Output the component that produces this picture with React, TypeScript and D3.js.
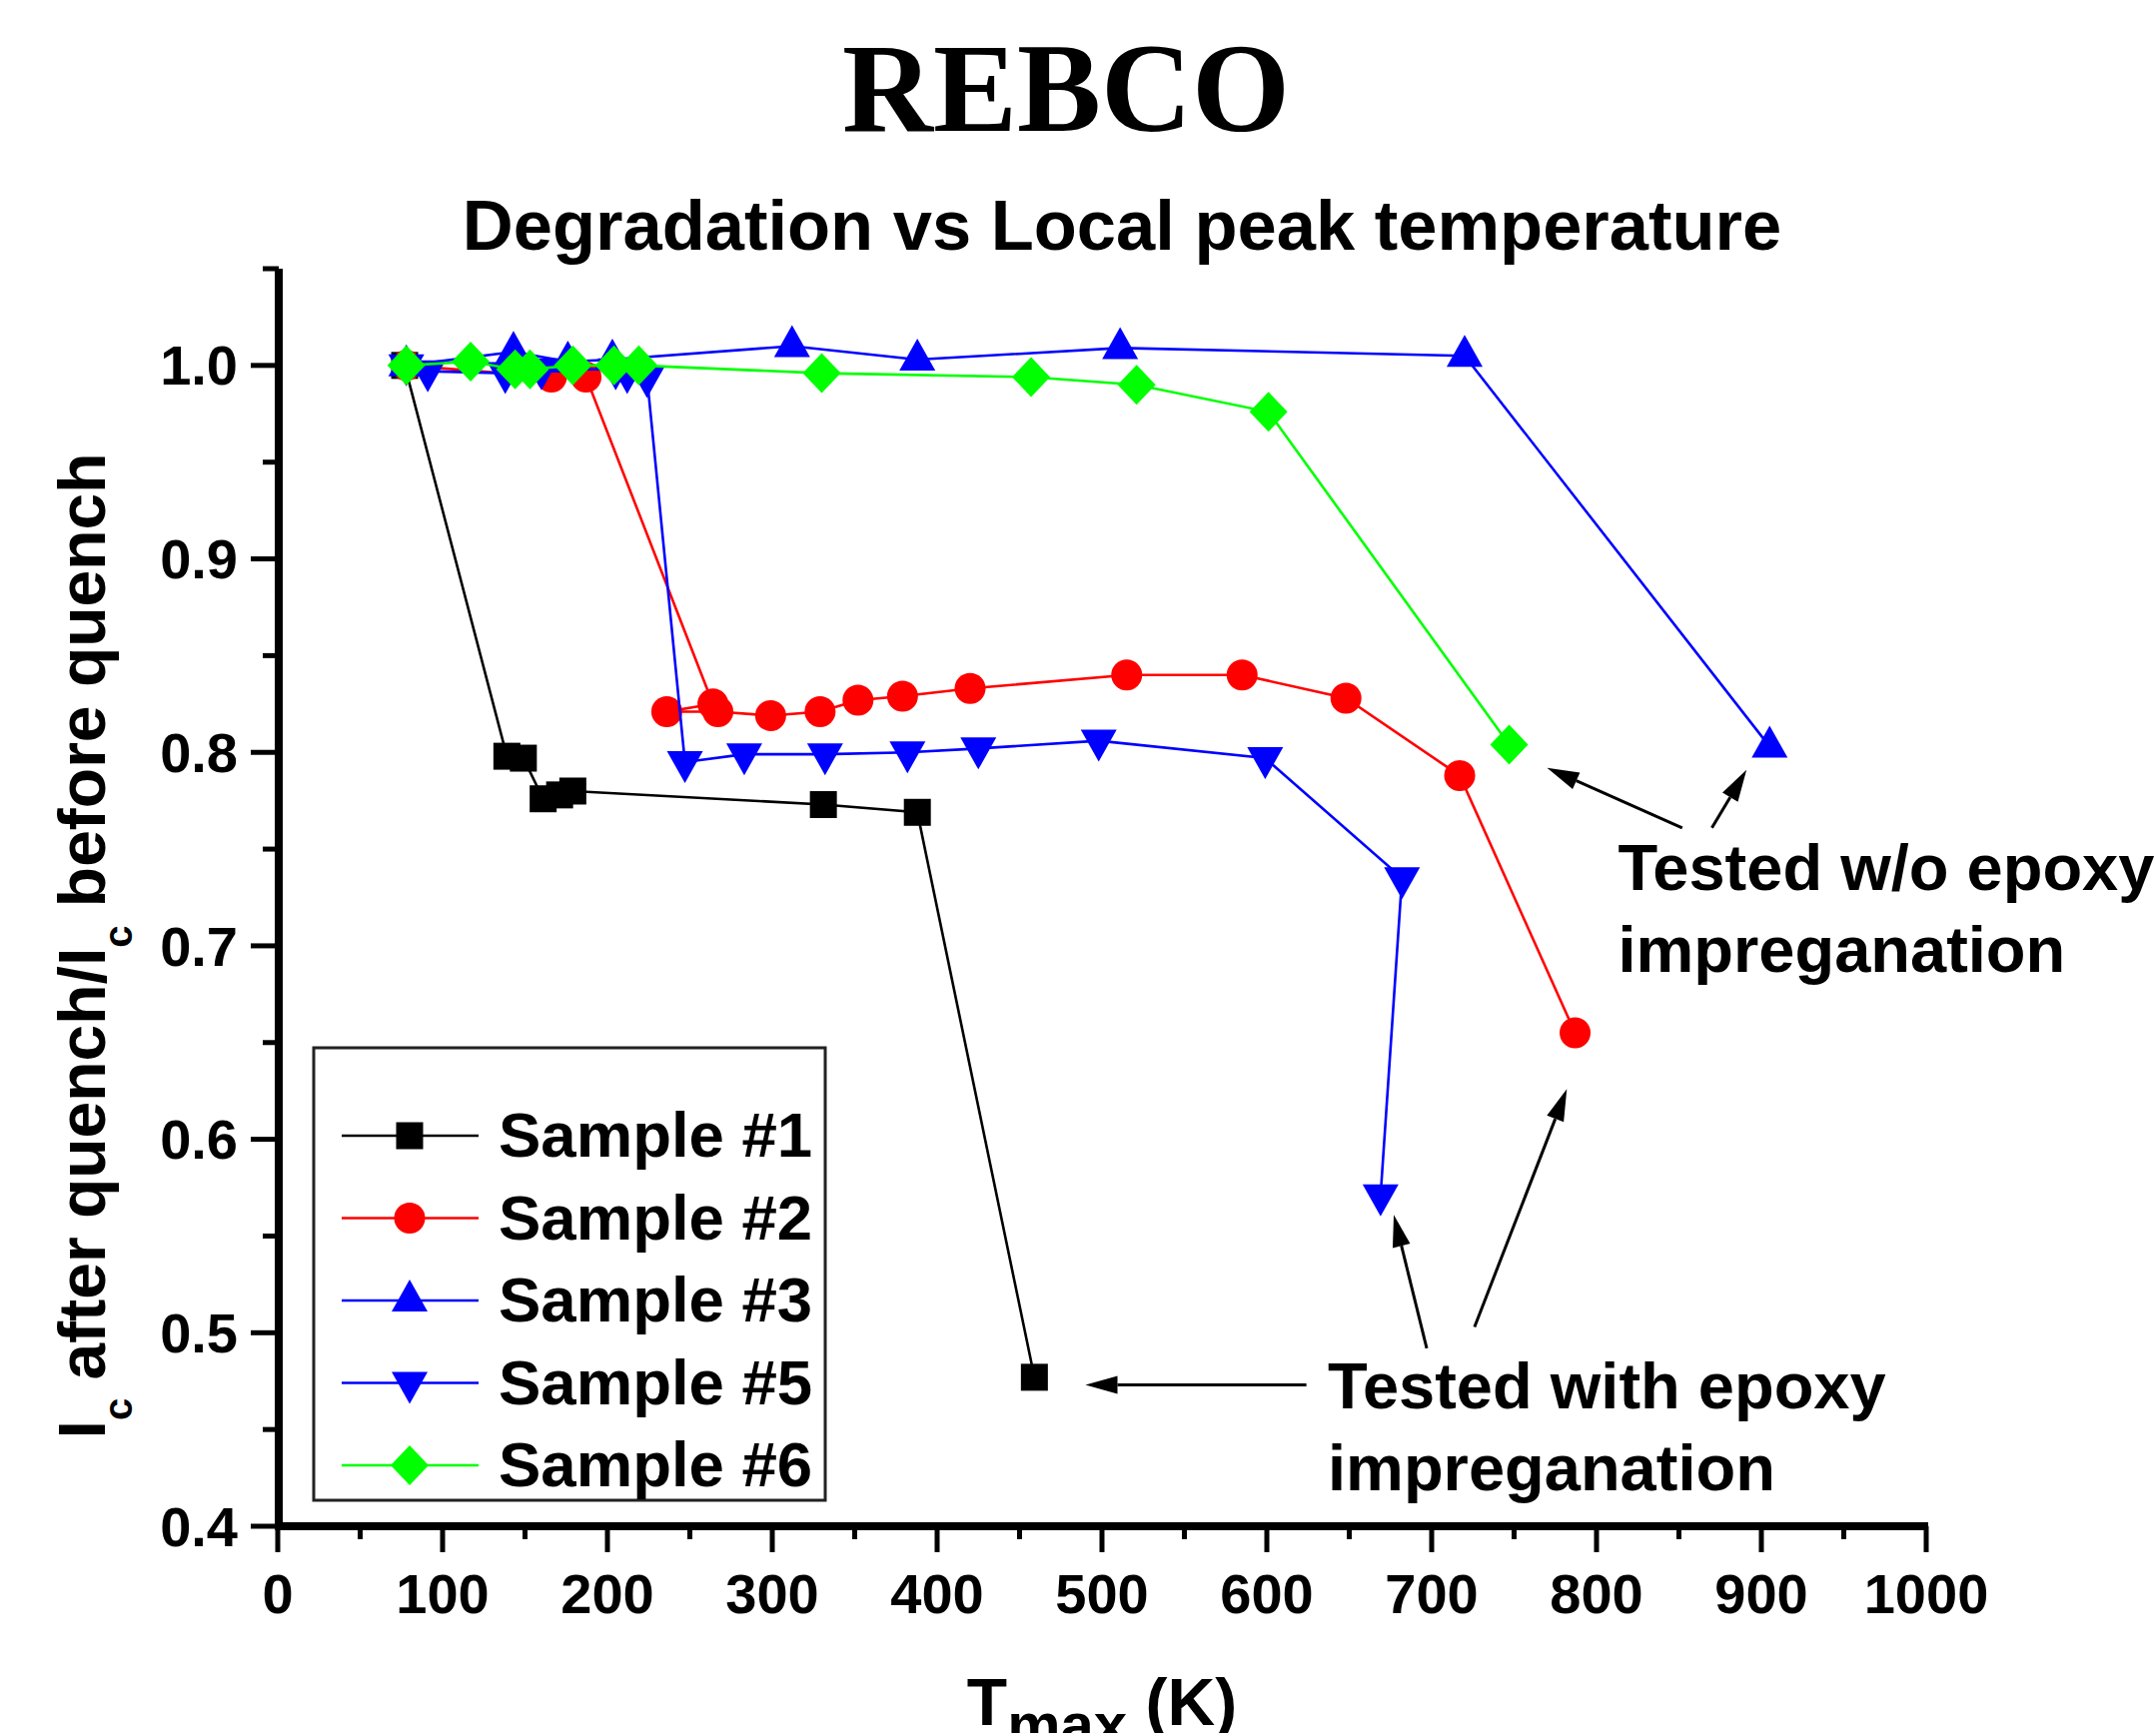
import React from 'react';
import * as d3 from 'd3';

// T_max (K), Ic ratio pairs
const sample1 = [
  [77, 1.0], [139, 0.798], [149, 0.797], [161, 0.776], [171, 0.778],
  [179, 0.78], [331, 0.773], [388, 0.769], [459, 0.477],
];
const sample2 = [
  [78, 1.0], [166, 0.994], [187, 0.994], [264, 0.825], [236, 0.821],
  [267, 0.821], [299, 0.819], [329, 0.821], [352, 0.827], [379, 0.829],
  [420, 0.833], [515, 0.84], [585, 0.84], [648, 0.828], [717, 0.788], [787, 0.655],
];
const sample3 = [
  [78, 1.0], [143, 1.007], [176, 1.002], [203, 1.003], [312, 1.01],
  [388, 1.003], [511, 1.009], [720, 1.005], [905, 0.803],
];
const sample5 = [
  [78, 1.0], [91, 0.997], [138, 0.996], [160, 0.998], [205, 0.998],
  [212, 0.996], [224, 0.994], [247, 0.795], [283, 0.799], [332, 0.799],
  [382, 0.8], [425, 0.802], [498, 0.806], [599, 0.797], [682, 0.735], [669, 0.571],
];
const sample6 = [
  [78, 1.0], [117, 1.002], [144, 0.998], [153, 0.998], [179, 1.0],
  [204, 1.0], [219, 1.0], [330, 0.996], [457, 0.994], [521, 0.99],
  [601, 0.976], [747, 0.804],
];

const xTicks = [0, 100, 200, 300, 400, 500, 600, 700, 800, 900, 1000];
const xMinor = [50, 150, 250, 350, 450, 550, 650, 750, 850, 950];
const yTicks = [0.4, 0.5, 0.6, 0.7, 0.8, 0.9, 1.0];
const yMinor = [0.45, 0.55, 0.65, 0.75, 0.85, 0.95, 1.05];

// annotation arrows in data units: [fromT, fromR, toT, toR]
const arrowsWith = [
  [624, 0.473, 490, 0.473],
  [697, 0.492, 677, 0.561],
  [726, 0.503, 782, 0.626],
];
const arrowsWithout = [
  [852, 0.761, 770, 0.792],
  [870, 0.761, 891, 0.791],
];

const W = 2158;
const H = 1735;
const FONT = '"Liberation Sans", Arial, sans-serif';

const x = d3.scaleLinear().domain([0, 1000]).range([278, 1928]);
const y = d3.scaleLinear().domain([0.4, 1.05]).range([1528, 269]);

const square = 'M-13.5,-13.5H13.5V13.5H-13.5Z';
const circle = d3.symbol().type(d3.symbolCircle).size(Math.PI * 15.5 * 15.5)();
const triUp = 'M0,-21L18,11L-18,11Z';
const triDown = 'M0,21L18,-11L-18,-11Z';
const diamond = 'M0,-20L19,0L0,20L-19,0Z';

const series = [
  { name: 'Sample #1', data: sample1, color: '#000000', marker: square },
  { name: 'Sample #2', data: sample2, color: '#ff0000', marker: circle },
  { name: 'Sample #3', data: sample3, color: '#0000ff', marker: triUp },
  { name: 'Sample #5', data: sample5, color: '#0000ff', marker: triDown },
  { name: 'Sample #6', data: sample6, color: '#00ff00', marker: diamond },
];

const line = d3.line<number[]>().x((d) => x(d[0])).y((d) => y(d[1]));

function Arrow({ a }: { a: number[] }) {
  const x1 = x(a[0]), y1 = y(a[1]), x2 = x(a[2]), y2 = y(a[3]);
  const ang = Math.atan2(y2 - y1, x2 - x1);
  const len = 32, hw = 9;
  const bx = x2 - len * Math.cos(ang), by = y2 - len * Math.sin(ang);
  const px = -Math.sin(ang) * hw, py = Math.cos(ang) * hw;
  return (
    <g>
      <line x1={x1} y1={y1} x2={bx} y2={by} stroke="#000" strokeWidth={3} />
      <path d={`M${x2},${y2}L${bx + px},${by + py}L${bx - px},${by - py}Z`} fill="#000" />
    </g>
  );
}

export default function App() {
  const fmt = d3.format('.1f');
  return (
    <svg width={W} height={H} style={{ position: 'absolute', left: 0, top: 0, background: '#fff' }}
      fontFamily={FONT} fontWeight="bold">
      <rect width={W} height={H} fill="#fff" />

      <text x={1067} y={131} textAnchor="middle" fontFamily='"Liberation Serif", "Times New Roman", serif'
        fontSize={126}>REBCO</text>
      <text x={1123} y={250} textAnchor="middle" fontSize={70.5}>Degradation vs Local peak temperature</text>

      {/* axes */}
      <line x1={279} x2={279} y1={y(1.05)} y2={1532} stroke="#000" strokeWidth={8} />
      <line x1={275} x2={x(1000) + 2} y1={1528} y2={1528} stroke="#000" strokeWidth={8} />
      {yTicks.map((t) => (
        <g key={'yt' + t}>
          <line x1={251} x2={279} y1={y(t)} y2={y(t)} stroke="#000" strokeWidth={5} />
          <text x={238} y={y(t)} dy="0.35em" textAnchor="end" fontSize={56}>{fmt(t)}</text>
        </g>
      ))}
      {yMinor.map((t) => (
        <line key={'ym' + t} x1={263} x2={279} y1={y(t)} y2={y(t)} stroke="#000" strokeWidth={5} />
      ))}
      {xTicks.map((t) => (
        <g key={'xt' + t}>
          <line x1={x(t)} x2={x(t)} y1={1528} y2={1554} stroke="#000" strokeWidth={5} />
          <text x={x(t)} y={1615} textAnchor="middle" fontSize={56}>{t}</text>
        </g>
      ))}
      {xMinor.map((t) => (
        <line key={'xm' + t} x1={x(t)} x2={x(t)} y1={1528} y2={1541} stroke="#000" strokeWidth={5} />
      ))}

      {/* axis titles */}
      <text x={x(500)} y={1727} textAnchor="middle" fontSize={66}>
        T<tspan fontSize={60} dy={20}>max</tspan><tspan dy={-20}> (K)</tspan>
      </text>
      <text transform={`translate(105,${y(0.7)}) rotate(-90)`} textAnchor="middle" fontSize={66}>
        I<tspan fontSize={40} dy={27}>c</tspan>
        <tspan dy={-27}> after quench/I</tspan>
        <tspan fontSize={40} dy={27}>c</tspan>
        <tspan dy={-27}> before quench</tspan>
      </text>

      {/* series */}
      {series.map((s) => (
        <g key={s.name}>
          <path d={line(s.data) || ''} fill="none" stroke={s.color} strokeWidth={2.6} />
          {s.data.map((d, i) => (
            <path key={i} d={s.marker} transform={`translate(${x(d[0])},${y(d[1])})`} fill={s.color} />
          ))}
        </g>
      ))}

      {/* legend */}
      <rect x={314} y={1049} width={512} height={453} fill="none" stroke="#222" strokeWidth={3} />
      {series.map((s, i) => {
        const ly = 1137 + i * 82.5;
        return (
          <g key={'lg' + s.name}>
            <line x1={342} x2={479} y1={ly} y2={ly} stroke={s.color} strokeWidth={2.6} />
            <path d={s.marker} transform={`translate(410,${ly})`} fill={s.color} />
            <text x={499} y={ly + 21} fontSize={63.5}>{s.name}</text>
          </g>
        );
      })}

      {/* annotations */}
      {arrowsWith.map((a, i) => <Arrow key={'aw' + i} a={a} />)}
      {arrowsWithout.map((a, i) => <Arrow key={'ao' + i} a={a} />)}
      <text x={x(637)} y={y(0.461)} fontSize={65}>
        <tspan x={x(637)}>Tested with epoxy</tspan>
        <tspan x={x(637)} dy={82}>impreganation</tspan>
      </text>
      <text x={x(813)} y={y(0.729)} fontSize={65}>
        <tspan x={x(813)}>Tested w/o epoxy</tspan>
        <tspan x={x(813)} dy={82}>impreganation</tspan>
      </text>
    </svg>
  );
}
